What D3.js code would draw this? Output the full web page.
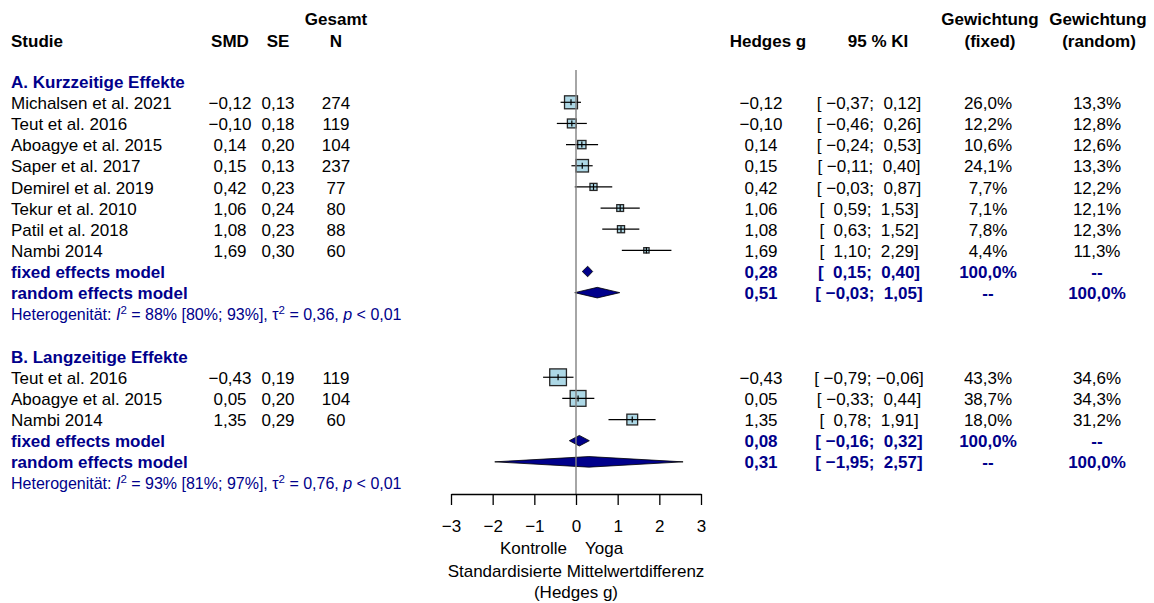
<!DOCTYPE html>
<html>
<head>
<meta charset="utf-8">
<script src="https://cdn.jsdelivr.net/npm/d3@7"></script>
<style>
  html, body { margin: 0; padding: 0; background: #fff; }
  svg { display: block; font-family: "Liberation Sans", Arial, Helvetica, sans-serif; }
  text { white-space: pre; }
</style>
</head>
<body>
<svg id="chart" width="1154" height="603"></svg>
<script>
// ---- Kurzzeitige Effekte ----
const studiesA  = ["Michalsen et al. 2021", "Teut et al. 2016", "Aboagye et al. 2015", "Saper et al. 2017",
                   "Demirel et al. 2019", "Tekur et al. 2010", "Patil et al. 2018", "Nambi 2014"];
const smdA      = [-0.12, -0.10, 0.14, 0.15, 0.42, 1.06, 1.08, 1.69];
const seA       = [0.13, 0.18, 0.20, 0.13, 0.23, 0.24, 0.23, 0.30];
const nA        = [274, 119, 104, 237, 77, 80, 88, 60];
const lowerA    = [-0.37, -0.46, -0.24, -0.11, -0.03, 0.59, 0.63, 1.10];
const upperA    = [0.12, 0.26, 0.53, 0.40, 0.87, 1.53, 1.52, 2.29];
const wFixedA   = [26.0, 12.2, 10.6, 24.1, 7.7, 7.1, 7.8, 4.4];
const wRandomA  = [13.3, 12.8, 12.6, 13.3, 12.2, 12.1, 12.3, 11.3];
const fixedA    = [0.28, 0.15, 0.40];   // estimate, lower, upper
const randomA   = [0.51, -0.03, 1.05];
const hetA      = ["88%", "80%", "93%", "0,36", "0,01"];

// ---- Langzeitige Effekte ----
const studiesB  = ["Teut et al. 2016", "Aboagye et al. 2015", "Nambi 2014"];
const smdB      = [-0.43, 0.05, 1.35];
const seB       = [0.19, 0.20, 0.29];
const nB        = [119, 104, 60];
const lowerB    = [-0.79, -0.33, 0.78];
const upperB    = [-0.06, 0.44, 1.91];
const wFixedB   = [43.3, 38.7, 18.0];
const wRandomB  = [34.6, 34.3, 31.2];
const fixedB    = [0.08, -0.16, 0.32];
const randomB   = [0.31, -1.95, 2.57];
const hetB      = ["93%", "81%", "97%", "0,76", "0,01"];

const axisTicks = [-3, -2, -1, 0, 1, 2, 3];

// ---- styling ----
const BLUE = "#00008B";
const FS = 17;

const svg = d3.select("#chart");
svg.append("rect").attr("width", 1154).attr("height", 603).attr("fill", "#fff");

const x = d3.scaleLinear().domain([-3, 3]).range([451, 701]);
const row = d3.scaleLinear().domain([0, 1]).range([102.3, 123.45]);
const boxSize = d3.scaleSqrt().domain([0, 100]).range([0, 25.4]);

const num = v => d3.format(".2f")(v).replace(".", ",");
const pct = v => d3.format(".1f")(v).replace(".", ",") + "%";
const ci = (lo, hi) => "[" + (lo < 0 ? " " : "  ") + num(lo) + ";" + (hi < 0 ? " " : "  ") + num(hi) + "]";

// columns: [x, anchor]
const col = {
  study: [11, "start"], smd: [230, "middle"], se: [278, "middle"], n: [336, "middle"],
  g: [761, "middle"], ci: [869, "middle"], wf: [988, "middle"], wr: [1097, "middle"]
};

function txt(g, c, y, s, opt = {}) {
  return g.append("text")
    .attr("x", col[c] ? col[c][0] : c)
    .attr("y", y)
    .attr("text-anchor", col[c] ? col[c][1] : (opt.anchor || "start"))
    .attr("font-size", opt.size || FS)
    .attr("font-weight", opt.bold ? "bold" : null)
    .attr("fill", opt.color || "#000")
    .text(s);
}

// ---- header ----
const head = svg.append("g");
[["study", "Studie"], ["smd", "SMD"], ["se", "SE"], ["n", "N"]].forEach(([c, s]) => txt(head, c, 46.5, s, { bold: true }));
txt(head, "n", 25, "Gesamt", { bold: true });
head.append("text").attr("x", 768).attr("y", 46.5).attr("text-anchor", "middle").attr("font-size", FS).attr("font-weight", "bold").text("Hedges g");
head.append("text").attr("x", 878).attr("y", 46.5).attr("text-anchor", "middle").attr("font-size", FS).attr("font-weight", "bold").text("95 % KI");
head.append("text").attr("x", 990).attr("y", 25).attr("text-anchor", "middle").attr("font-size", FS).attr("font-weight", "bold").text("Gewichtung");
head.append("text").attr("x", 990).attr("y", 46.5).attr("text-anchor", "middle").attr("font-size", FS).attr("font-weight", "bold").text("(fixed)");
head.append("text").attr("x", 1098).attr("y", 25).attr("text-anchor", "middle").attr("font-size", FS).attr("font-weight", "bold").text("Gewichtung");
head.append("text").attr("x", 1099).attr("y", 46.5).attr("text-anchor", "middle").attr("font-size", FS).attr("font-weight", "bold").text("(random)");

const plot = svg.append("g");
const table = svg.append("g");
const BL = 6.6; // baseline offset from row centre

function drawSection(start, title, studies, smd, se, n, lo, hi, wF, wR, fixed, random, het) {
  txt(table, "study", row(start - 1) + BL, title, { bold: true, color: BLUE });

  studies.forEach((s, i) => {
    const y = row(start + i);
    txt(table, "study", y + BL, s);
    txt(table, "smd", y + BL, num(smd[i]));
    txt(table, "se", y + BL, num(se[i]));
    txt(table, "n", y + BL, String(n[i]));
    txt(table, "g", y + BL, num(smd[i]));
    txt(table, "ci", y + BL, ci(lo[i], hi[i]));
    txt(table, "wf", y + BL, pct(wF[i]));
    txt(table, "wr", y + BL, pct(wR[i]));

    const b = boxSize(wF[i]);
    plot.append("rect")
      .attr("x", x(smd[i]) - b / 2).attr("y", y - b / 2)
      .attr("width", b).attr("height", b)
      .attr("fill", "#add8e6").attr("stroke", "#262626").attr("stroke-width", 1.3);
    plot.append("line")
      .attr("x1", x(lo[i])).attr("x2", x(hi[i])).attr("y1", y).attr("y2", y)
      .attr("stroke", "#000").attr("stroke-width", 1.2);
    plot.append("line")
      .attr("x1", x(smd[i])).attr("x2", x(smd[i])).attr("y1", y - 3).attr("y2", y + 3)
      .attr("stroke", "#000").attr("stroke-width", 1.2);
  });

  const k = studies.length;
  [["fixed effects model", fixed, "--", "--"], ["random effects model", random, "--", "--"]].forEach(([lab, m], j) => {
    const y = row(start + k + j);
    const o = { bold: true, color: BLUE };
    txt(table, "study", y + BL, lab, o);
    txt(table, "g", y + BL, num(m[0]), o);
    txt(table, "ci", y + BL, ci(m[1], m[2]), o);
    txt(table, "wf", y + BL, j === 0 ? "100,0%" : "--", o);
    txt(table, "wr", y + BL, j === 0 ? "--" : "100,0%", o);
    const h = 5.3;
    plot.append("path")
      .attr("d", `M${x(m[1])},${y}L${x(m[0])},${y - h}L${x(m[2])},${y}L${x(m[0])},${y + h}Z`)
      .attr("fill", BLUE).attr("stroke", "#000").attr("stroke-width", 0.8);
  });

  // heterogeneity line
  const yh = row(start + k + 2) + 5.8;
  const t = table.append("text").attr("x", 11).attr("y", yh).attr("font-size", 16).attr("fill", BLUE);
  t.append("tspan").text("Heterogenität: ");
  t.append("tspan").attr("font-style", "italic").text("I");
  t.append("tspan").attr("dy", -6).attr("font-size", 11.5).text("2");
  t.append("tspan").attr("dy", 6).text(" = " + het[0] + " [" + het[1] + "; " + het[2] + "], τ");
  t.append("tspan").attr("dy", -6).attr("font-size", 11.5).text("2");
  t.append("tspan").attr("dy", 6).text(" = " + het[3] + ", ");
  t.append("tspan").attr("font-style", "italic").text("p");
  t.append("tspan").text(" < " + het[4]);
}

drawSection(0, "A. Kurzzeitige Effekte", studiesA, smdA, seA, nA, lowerA, upperA, wFixedA, wRandomA, fixedA, randomA, hetA);
drawSection(13, "B. Langzeitige Effekte", studiesB, smdB, seB, nB, lowerB, upperB, wFixedB, wRandomB, fixedB, randomB, hetB);

// reference line at zero
plot.append("line")
  .attr("x1", x(0)).attr("x2", x(0)).attr("y1", 70).attr("y2", 494)
  .attr("stroke", "#808080").attr("stroke-width", 1.4);

// x axis
const axisY = 494;
const ax = svg.append("g").attr("transform", `translate(0,${axisY})`)
  .call(d3.axisBottom(x).tickValues(axisTicks).tickFormat(d3.format("d"))
        .tickSize(11).tickSizeOuter(0).tickPadding(15));
ax.select(".domain").attr("stroke", "#000").attr("stroke-width", 1.3);
ax.selectAll(".tick line").attr("stroke", "#000").attr("stroke-width", 1.3);
ax.selectAll(".tick text").attr("font-size", FS).attr("font-family", "Liberation Sans, Arial, sans-serif").attr("fill", "#000");

svg.append("text").attr("x", x(0) - 9).attr("y", 553.5).attr("text-anchor", "end").attr("font-size", FS).text("Kontrolle");
svg.append("text").attr("x", x(0) + 9).attr("y", 553.5).attr("text-anchor", "start").attr("font-size", FS).text("Yoga");
svg.append("text").attr("x", x(0)).attr("y", 577).attr("text-anchor", "middle").attr("font-size", FS).text("Standardisierte Mittelwertdifferenz");
svg.append("text").attr("x", x(0)).attr("y", 597.5).attr("text-anchor", "middle").attr("font-size", FS).text("(Hedges g)");
</script>
</body>
</html>
